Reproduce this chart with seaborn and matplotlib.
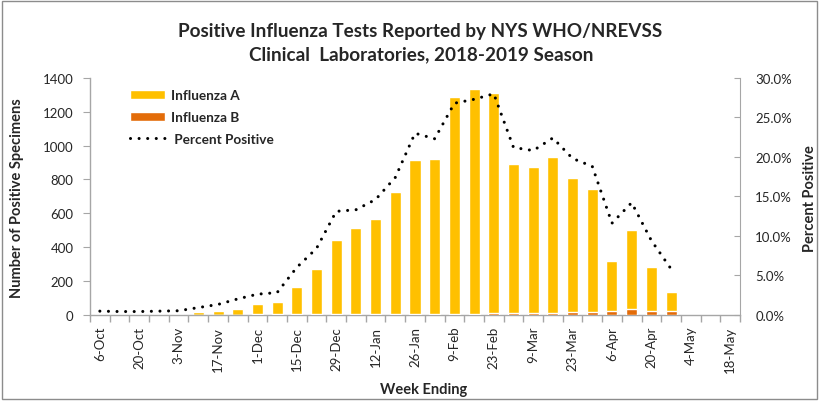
import numpy as np
import pandas as pd
import seaborn as sns
from matplotlib import pyplot as plt
from matplotlib.patches import Patch, Rectangle
from matplotlib.lines import Line2D
from matplotlib.ticker import FuncFormatter

weeks = ["6-Oct", "13-Oct", "20-Oct", "27-Oct", "3-Nov", "10-Nov", "17-Nov", "24-Nov",
         "1-Dec", "8-Dec", "15-Dec", "22-Dec", "29-Dec", "5-Jan", "12-Jan", "19-Jan",
         "26-Jan", "2-Feb", "9-Feb", "16-Feb", "23-Feb", "2-Mar", "9-Mar", "16-Mar",
         "23-Mar", "30-Mar", "6-Apr", "13-Apr", "20-Apr", "27-Apr", "4-May", "11-May", "18-May"]

# reported weeks only (through 27-Apr)
flu_a = [4, 3, 3, 4, 6, 13, 23, 32, 61, 71, 162, 268, 439, 512, 562, 720,
         910, 915, 1282, 1330, 1302, 884, 866, 925, 790, 725, 293, 465, 262, 114]
flu_b = [0, 0, 0, 0, 0, 1, 1, 1, 2, 2, 2, 2, 3, 3, 4, 4,
         5, 5, 6, 6, 8, 8, 8, 10, 18, 18, 22, 34, 20, 20]
pct_pos = [0.45, 0.4, 0.4, 0.45, 0.5, 0.9, 1.3, 2.0, 2.6, 2.8, 6.0, 8.4, 13.1, 13.3, 14.6, 17.4,
           23.0, 22.3, 26.8, 27.3, 28.0, 21.2, 20.8, 22.4, 19.8, 18.8, 11.6, 14.2, 9.4, 5.8]

yellow = "#FFC000"
orange = "#E36C09"
grey = "#A6A6A6"

df = pd.DataFrame({"week": weeks})
df["a"] = pd.Series(flu_a, dtype=float)
df["b"] = pd.Series(flu_b, dtype=float)
df["total"] = df["a"] + df["b"]
df["pct"] = pd.Series(pct_pos, dtype=float)
df["pos"] = np.arange(len(weeks))

sns.set_style("white")
plt.rcParams["font.family"] = ["Lato", "DejaVu Sans"]

fig = plt.figure(figsize=(8.19, 4.02), dpi=100)
ax = fig.add_axes([90 / 819, 1 - 315.7 / 402, 650 / 819, 236.7 / 402])

sns.barplot(data=df, x="week", y="total", order=weeks, color=yellow, saturation=1,
            width=0.56, errorbar=None, ax=ax, zorder=2)
sns.barplot(data=df, x="week", y="b", order=weeks, color=orange, saturation=1,
            width=0.56, errorbar=None, ax=ax, zorder=3)

ax.set_xlim(-0.5, len(weeks) - 0.5)
ax.set_ylim(0, 1400)
ax.set_yticks(range(0, 1401, 200))
ax.set_xticks(range(0, len(weeks), 2))
ax.set_xticklabels(weeks[::2], rotation=90, fontsize=9.5, color="#262626")
ax.set_xticks(np.arange(-0.5, len(weeks), 1), minor=True)
ax.tick_params(axis="x", which="major", length=0, pad=8)
ax.tick_params(axis="x", which="minor", length=5, color=grey, width=1, bottom=True)
ax.tick_params(axis="y", length=5, color=grey, labelsize=9.5, pad=7, left=True,
               labelcolor="#262626")
for s in ["top", "right"]:
    ax.spines[s].set_visible(False)
for s in ["left", "bottom"]:
    ax.spines[s].set_color(grey)
    ax.spines[s].set_linewidth(1)

ax.set_xlabel("")
ax.set_ylabel("Number of Positive Specimens", fontsize=10.5, fontweight="bold")
ax.yaxis.set_label_coords(-0.1015, 0.495)
fig.text(424 / 819, 1 - 390 / 402, "Week Ending", ha="center", va="center",
         fontsize=10.5, fontweight="bold")

ax2 = ax.twinx()
dots = (0, (0.01, 2.8))
sns.lineplot(data=df, x="pos", y="pct", ax=ax2, color="black", linewidth=2.2,
             linestyle="-", legend=False)
ln = ax2.lines[0]
ln.set_linestyle(dots)
ln.set_dash_capstyle("round")
ax2.set_ylim(0, 30)
ax2.set_yticks(range(0, 31, 5))
ax2.yaxis.set_major_formatter(FuncFormatter(lambda v, p: f"{v:.1f}%"))
ax2.tick_params(axis="y", length=4, direction="in", color=grey, labelsize=9.5, pad=11,
                right=True, labelcolor="#262626")
for s in ["top", "left", "bottom"]:
    ax2.spines[s].set_visible(False)
ax2.spines["right"].set_color(grey)
ax2.set_xlabel("")
ax2.set_ylabel("Percent Positive", fontsize=10.5, fontweight="bold", rotation=90)
ax2.yaxis.set_label_coords(1.097, 0.495)

handles = [Patch(facecolor=yellow, label="Influenza A"),
           Patch(facecolor=orange, label="Influenza B"),
           Line2D([], [], color="black", linewidth=2.2, linestyle=dots,
                  dash_capstyle="round", label=" Percent Positive")]
leg = ax2.legend(handles=handles, loc="upper left", bbox_to_anchor=(0.0615, 0.952),
                 frameon=False, borderpad=0, borderaxespad=0, handlelength=2.6,
                 handleheight=0.6, handletextpad=0.4, labelspacing=0.72,
                 prop={"weight": "bold", "size": 9.8})

fig.text(420 / 819, 1 - 31 / 402, "Positive Influenza Tests Reported by NYS WHO/NREVSS",
         ha="center", va="center", fontsize=13.6, fontweight="bold")
fig.text(421 / 819, 1 - 55 / 402, "Clinical  Laboratories, 2018-2019 Season",
         ha="center", va="center", fontsize=13.6, fontweight="bold")

fig.patches.append(Rectangle((0.002, 0.004), 0.995, 0.991, transform=fig.transFigure,
                             fill=False, edgecolor="#8C8C8C", linewidth=1))

fig.savefig("out.png", dpi=100)
